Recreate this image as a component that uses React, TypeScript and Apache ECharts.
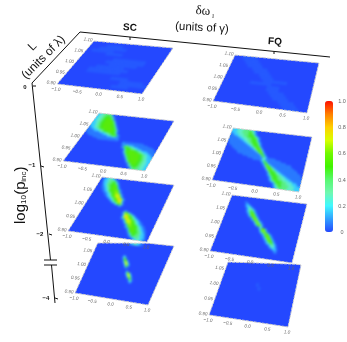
import React, { useEffect, useRef } from "react";
import * as echarts from "echarts";

const W = 347, H = 342;
type Row = [number, string] | [];

const levels = [0, 0.06, 0.16, 0.27, 0.38, 0.48, 0.56, 0.63, 0.7, 0.8];
const sc1Rows: Row[] = [
  [], [6, "aaaaaa"], [4, "aaaaaaaaaa"], [2, "aaaaaaaa"], [8, "aaaaaa"], [], [12, "aaaaaaaaaaaa"], [10, "aaaaaaaaaaaaaa"], [12, "aaaaaaaaaa"],
  [8, "aaaaaaaaaa"], [6, "aaaaaaaaaaaaaa"], [6, "aaaaaaaaaaaa"], [], [16, "aaaaaa"], [20, "aaaaaaaa"], [20, "aaaaaaaaaa"], [18, "aaaaaa"], [],
];
const sc2Rows: Row[] = [
  [0, "2233344444310"], [0, "2233344455431"], [0, "223334455555431"], [0, "2233344556665310"], [0, "22333445566666531"], [0, "223334455666666531"],
  [0, "2223344556666666531"], [0, "22233445566666665531"], [0, "2222334455666666655310"], [0, "12223344556666666655310"], [0, "112223344556666666655310"], [0, "111122223344556666665531"],
  [0, "1111112222334455666655310"], [0, "01111111111222233445555310"], [0, "001111111111112223344555521"], [0, "00001111111111111122223321"], [8, "11111111111111111121"], [12, "1111111111111111"],
  [32, "1111111111111111"], [32, "12111111111111111111"], [34, "12332222111111111111110000"], [33, "125555443322211111111111100"], [34, "01355554433222211111111110"], [35, "0135566665544332222111111"],
  [36, "135566666655443322221111"], [36, "013556666666655443322211"], [37, "01355666666665544332221"], [38, "0135566666665544332222"], [40, "13556666666554433222"], [41, "1356666666554433222"],
  [42, "135666666554433322"], [43, "13566666554433322"], [44, "0135666554433322"], [45, "134555554433322"], [47, "1345544433322"], [47, "0134444433322"],
];
const sc3Rows: Row[] = [
  [2, "1122333221"], [2, "122233443321"], [3, "1222344455421"], [3, "12223444555421"], [4, "12234455566541"], [4, "112234455666521"],
  [5, "112234456666521"], [6, "1122345566676521"], [7, "112234556677621"], [9, "112234566787721"], [10, "112234567888721"], [12, "12234567888721"],
  [14, "12234567898721"], [16, "123456789831"], [18, "1234678831"], [21, "12356731"], [25, "121"], [],
  [], [32, "121"], [31, "13765321"], [32, "1388764321"], [32, "138987654321"], [32, "12789876543221"],
  [34, "12788876543221"], [35, "127888765432211"], [36, "127787665432211"], [38, "126776655432211"], [38, "1256766655432211"], [40, "125666654432211"],
  [41, "125666554432211"], [42, "14566555443221"], [43, "12455544432221"], [44, "1245544432221"], [46, "123344332221"], [48, "1223332211"],
];
const sc4Rows: Row[] = [
  [], [], [], [], [], [], [], [], [],
  [24, "12"], [24, "1341"], [25, "1561"], [26, "2772"], [27, "2882"], [28, "2872"], [29, "251"], [30, "1"], [],
  [32, "2"], [32, "2772"], [33, "2882"], [34, "2872"], [35, "1561"], [36, "1341"], [37, "12"],
];
const fq1Rows: Row[] = [
  [3, "aaaaa"], [4, "aaaaa"], [5, "aaaaa"], [6, "aaaaa"], [8, "aaaaa"], [9, "aaaaa"], [11, "aaaa"], [12, "aaaa"], [13, "aaaaaaaa"],
  [9, "aaaaaaa"], [15, "aaaa"], [15, "aaaa"], [16, "aaaaa"], [17, "aaaaa"], [18, "aaaaa"], [20, "aaaaa"], [21, "aaaaa"], [22, "aaaaa"],
];
const fq2Rows: Row[] = [
  [0, "2222333334444433210"], [0, "2222333344444554321"], [0, "22223333444445544210"], [0, "112222333344445554210"], [0, "1112223333444555554321"], [0, "11111122233334445555421"],
  [0, "11111111222333444555421"], [0, "111111111122333445555421"], [0, "0111111111112233445555421"], [0, "0111111111111122334555531"], [0, "00111111111111112234555531"], [0, "000011111111111111223466631"],
  [0, "0000011111111111111123466631"], [0, "00000001111111111111112356631"], [8, "0111111111111111246621"], [10, "111111111111111125521"], [14, "111111111111124521"], [18, "11111111111332111111"],
  [22, "11111123311111111111"], [28, "125421111111111111"], [29, "125521111111111111111"], [30, "1266421111111111111110"], [31, "13665321111111111111110000000"], [32, "1366643211111111111111100000"],
  [33, "136664322111111111111110000"], [34, "13555543221111111111111100"], [35, "1355554332211111111111110"], [35, "1245555443322111111111110"], [36, "124555544333221111111111"], [37, "12455544433322211111111"],
  [37, "12455554443333222111111"], [38, "1234555554443333222111"], [39, "012455544443333222211"], [40, "01244554444433332222"], [41, "1234554444433332222"], [41, "0123344444333332222"],
];
const fq3Rows: Row[] = [
  [], [], [], [12, "11"], [13, "121"], [13, "12221"], [14, "123321"], [15, "1234321"], [15, "12345421"],
  [16, "12456521"], [17, "12467521"], [18, "12567521"], [20, "1267531"], [21, "1267531"], [23, "1367421"], [24, "1367421"], [26, "257631"], [28, "1331"],
  [29, "136752"], [30, "257741"], [31, "2467521"], [32, "12467521"], [33, "12567521"], [34, "12467521"], [35, "12467521"], [36, "12456521"], [37, "12345421"],
  [39, "1234321"], [40, "123321"], [42, "12221"], [44, "121"], [45, "11"],
];
const fq4Rows: Row[] = [[], [], [], [], [], [], [], [14, "a"], [15, "a"]];

const xTicks = ["−1.0", "−0.5", "0.0", "0.5", "1.0"];
const yTicks = ["0.90", "0.95", "1.00", "1.05", "1.10"];
const yTicksClipped = ["0.90", "0.95", "1.00", "1.05"];
const barTicks = ["0", "0.2", "0.4", "0.6", "0.8", "1.0"];
const barColors = ["#2448ff", "#30a0ff", "#40f8ff", "#70f8b0", "#58f870", "#40f400", "#70f800", "#d8ff00", "#ffd000", "#ff8000", "#ff1000"];

type Pt = [number, number];
type Panel = { rows: Row[]; cols: number; nrows: number; tl: Pt; tr: Pt; bl: Pt; br: Pt; yt: string[]; vis: Pt[] };
const quad = (tl: Pt, tr: Pt, br: Pt, bl: Pt): Pt[] => [tl, tr, br, bl];
const panels: Panel[] = [
  { rows: sc4Rows, cols: 60, nrows: 36, tl: [100, 238], tr: [174, 246], bl: [75, 293], br: [148, 305], yt: yTicksClipped, vis: [[97.7, 243], [148, 243.2], [174, 246], [148, 305], [75, 293]] },
  { rows: fq4Rows, cols: 30, nrows: 18, tl: [231, 254], tr: [301, 265], bl: [209, 315], br: [288, 327], yt: yTicksClipped, vis: [[228, 262], [296, 264.2], [301, 265], [288, 327], [209, 315]] },
  { rows: sc1Rows, cols: 30, nrows: 18, tl: [94, 41], tr: [173, 48], bl: [57, 84], br: [142, 94], yt: yTicks, vis: quad([94, 41], [173, 48], [142, 94], [57, 84]) },
  { rows: sc2Rows, cols: 60, nrows: 36, tl: [99, 113], tr: [174, 121], bl: [63, 161], br: [145, 171], yt: yTicks, vis: quad([99, 113], [174, 121], [145, 171], [63, 161]) },
  { rows: sc3Rows, cols: 60, nrows: 36, tl: [102, 177], tr: [174, 185], bl: [68, 231], br: [147, 242], yt: yTicks, vis: quad([102, 177], [174, 185], [147, 242], [68, 231]) },
  { rows: fq1Rows, cols: 30, nrows: 18, tl: [235, 55], tr: [319, 63], bl: [213, 101], br: [307, 113], yt: yTicks, vis: quad([235, 55], [319, 63], [307, 113], [213, 101]) },
  { rows: fq2Rows, cols: 60, nrows: 36, tl: [233, 128], tr: [312, 137], bl: [212, 180], br: [299, 192], yt: yTicks, vis: quad([233, 128], [312, 137], [299, 192], [212, 180]) },
  { rows: fq3Rows, cols: 60, nrows: 36, tl: [232, 195], tr: [307, 204], bl: [210, 251], br: [292, 263], yt: yTicks, vis: quad([232, 195], [307, 204], [292, 263], [210, 251]) },
];

const digit = (ch: string) => (ch === "a" ? 0.02 : levels[Number(ch)]);
const cells = (p: Panel) => {
  const out: number[][] = [];
  p.rows.forEach((row, r) => {
    if (row.length < 2) return;
    const [start, s] = row as [number, string];
    for (let k = 0; k < s.length; k++) {
      const v = digit(s[k]);
      if (v === 0) continue;
      const x = -1 + ((start + k + 0.5) * 2) / p.cols;
      const y = 1.1 - ((r + 0.5) * 0.2) / p.nrows;
      out.push([x, y, v]);
    }
  });
  return out;
};
const bil = (p: Panel, u: number, v: number): Pt => [
  (1 - v) * ((1 - u) * p.tl[0] + u * p.tr[0]) + v * ((1 - u) * p.bl[0] + u * p.br[0]),
  (1 - v) * ((1 - u) * p.tl[1] + u * p.tr[1]) + v * ((1 - u) * p.bl[1] + u * p.br[1]),
];
const GREY = "#666";
const txt = (text: string, x: number, y: number, fontSize: number, rot = 0, extra: any = {}) => ({
  type: "text", x, y, rotation: (rot * Math.PI) / 180, z: 6,
  style: { text, fontSize, fontFamily: "Liberation Sans", fill: "#111", align: "center", verticalAlign: "middle", ...extra },
});
const line = (a: Pt, b: Pt, w = 1) => ({
  type: "line", z: 6, shape: { x1: a[0], y1: a[1], x2: b[0], y2: b[1] }, style: { stroke: "#111", lineWidth: w },
});

// Layer with the eight heat maps, each cell through its panel's hidden axes.
function heatOption() {
  return {
    animation: false,
    grid: panels.map(() => ({ left: 0, right: 0, top: 0, bottom: 0 })),
    xAxis: panels.map((_, i) => ({ type: "value", gridIndex: i, min: -1, max: 1, show: false })),
    yAxis: panels.map((_, i) => ({ type: "value", gridIndex: i, min: 0.9, max: 1.1, show: false })),
    visualMap: { show: false, type: "continuous", min: 0, max: 1, dimension: 2, inRange: { color: barColors } },
    graphic: panels.map((p) => ({
      type: "polygon", z: 0,
      shape: { points: [bil(p, -0.1, -0.1), bil(p, 1.1, -0.1), bil(p, 1.1, 1.1), bil(p, -0.1, 1.1)] },
      style: { fill: barColors[0] },
    })),
    series: panels.map((p, i) => ({
      type: "custom", xAxisIndex: i, yAxisIndex: i, clip: false, silent: true, z: 2,
      encode: { x: 0, y: 1 }, data: cells(p),
      renderItem: (_: any, api: any) => {
        const x = api.value(0), y = api.value(1), dx = 1 / p.cols, dy = 0.1 / p.nrows;
        const pts = [[x - dx, y + dy], [x + dx, y + dy], [x + dx, y - dy], [x - dx, y - dy]].map((c) => {
          const q = api.coord(c);
          let u = q[0] / W, v = q[1] / H;
          // the outermost cells run past the frame, so that the soft layer stays full to its clip edge
          if (u < 0.001) u = -0.08;
          if (u > 0.999) u = 1.08;
          if (v < 0.001) v = -0.08;
          if (v > 0.999) v = 1.08;
          return bil(p, u, v);
        });
        const color = api.visual("color");
        return { type: "polygon", shape: { points: pts }, style: { fill: color, stroke: color, lineWidth: 0.4 } };
      },
    })),
  };
}

// Layer with the frames, axes, texts and colour bar.
function frameOption() {
  const graphics: any[] = [];
  panels.forEach((p) => {
    graphics.push({
      type: "polygon", z: 3,
      shape: { points: p.vis },
      style: { fill: "none", stroke: "#cfcfcf", lineWidth: 1, lineDash: [3, 1] },
    });
    xTicks.forEach((t, i) => {
      const q = bil(p, i / 4, 1);
      graphics.push(txt(t, q[0] - 1, q[1] + 5, 4.6, -6, { fill: GREY, fontStyle: "italic" }));
    });
    p.yt.forEach((t, i) => {
      const q = bil(p, 0, 1 - i / 4);
      graphics.push(txt(t, q[0] - 6, q[1] - 1.5, 4.6, -6, { fill: GREY, fontStyle: "italic" }));
    });
  });
  graphics.push(
    line([80, 32], [32, 83]), line([80, 32], [330, 57]), line([130, 37], [130, 40]), line([274, 51.4], [274, 54]),
    line([32, 83], [50.5, 260]), line([51.5, 265], [55, 303]),
    line([33, 86], [36, 86]), line([41, 166], [44, 167]), line([49, 234], [52, 235]), line([55, 298], [58, 299]),
    line([44, 260], [57, 260]), line([44, 265], [57, 265]),
    txt("0", 25, 87, 6, 0, { fontWeight: "bold" }), txt("−1", 32, 165, 6, 0, { fontWeight: "bold" }),
    txt("−2", 40, 234, 6, 0, { fontWeight: "bold" }), txt("−4", 46, 298, 6, 0, { fontWeight: "bold" }),
    txt("SC", 130, 27, 10, -4, { fontWeight: "bold" }), txt("FQ", 275, 41, 10, -4, { fontWeight: "bold" }),
    txt("δω", 203, 10, 13, -3, { fontFamily: "Liberation Serif" }), txt("I", 213, 16, 6, -3, { fontFamily: "Liberation Serif" }),
    txt("(units of γ)", 202, 27, 11.5, -3),
    txt("L", 32, 46, 12, 45), txt("(units of λ)", 43, 57, 12, 45),
    txt("log", 19, 214, 15, 90), txt("10", 23, 199.5, 8, 90), txt("(p", 19, 188, 15, 90), txt("inc", 23, 176.6, 8, 90), txt(")", 19, 169, 15, 90)
  );
  barTicks.forEach((t, i) => graphics.push(txt(t, 342, 232 - i * 26.2, 5.5, 0, { fill: GREY })));
  return {
    animation: false,
    visualMap: {
      type: "continuous", min: 0, max: 1, left: 325, top: 101, itemWidth: 8, itemHeight: 131,
      padding: 0, showLabel: false, calculable: false, text: ["", ""], inRange: { color: barColors },
    },
    graphic: graphics,
  };
}

const clip = panels.map((p) => "M" + p.vis.map((q) => q.join(" ")).join("L") + "Z").join("");

export default function App() {
  const heatRef = useRef<HTMLDivElement>(null);
  const frameRef = useRef<HTMLDivElement>(null);
  useEffect(() => {
    const heat = echarts.init(heatRef.current!, undefined, { renderer: "svg" });
    heat.setOption(heatOption() as any);
    const frame = echarts.init(frameRef.current!, undefined, { renderer: "svg" });
    frame.setOption(frameOption() as any);
    return () => {
      heat.dispose();
      frame.dispose();
    };
  }, []);
  const box: React.CSSProperties = { position: "absolute", left: 0, top: 0, width: W, height: H };
  return (
    <div style={{ ...box, position: "fixed", background: "#fff" }}>
      <div style={{ ...box, clipPath: `path('${clip}')` }}>
        <div ref={heatRef} style={{ ...box, filter: "blur(0.8px)" }} />
      </div>
      <div ref={frameRef} style={{ ...box, filter: "blur(0.3px)" }} />
    </div>
  );
}
